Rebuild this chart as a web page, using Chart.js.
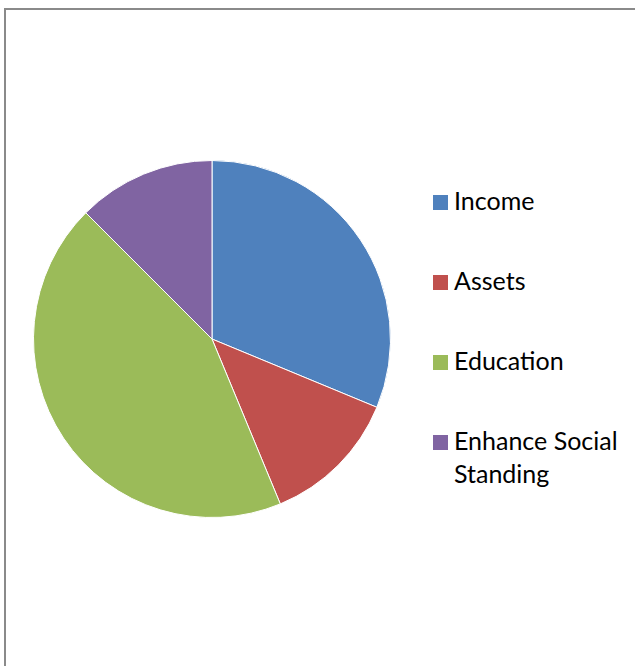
<!DOCTYPE html>
<html>
<head>
<meta charset="utf-8">
<script src="https://cdn.jsdelivr.net/npm/chart.js@4/dist/chart.umd.min.js"></script>
<style>
    html, body {
        margin: 0;
        padding: 0;
        width: 635px;
        height: 666px;
        overflow: hidden;
        background: #ffffff;
    }
    .frame {
        position: absolute;
        left: 4px;
        top: 8px;
        width: 700px;
        height: 700px;
        border: 2px solid #8a8a8a;
        box-sizing: border-box;
    }
    .pie-box {
        position: absolute;
        left: 33px;
        top: 160px;
        width: 358px;
        height: 358px;
    }
    #legend {
        position: absolute;
        left: 433px;
        top: 184px;
        width: 200px;
        margin: 0;
        padding: 0;
        list-style: none;
        font-family: Lato, "Open Sans", sans-serif;
        font-size: 25px;
        line-height: 33px;
        color: #000000;
    }
    #legend li {
        display: flex;
        align-items: baseline;
        margin-bottom: 47px;
    }
    #legend .swatch {
        display: inline-block;
        width: 15px;
        height: 15px;
        margin-right: 6px;
        flex: none;
    }
    #legend .text {
        flex: none;
        width: 172px;
    }
</style>
</head>
<body>
<div class="frame"></div>
<div class="pie-box"><canvas id="pieChart" width="358" height="358"></canvas></div>
<ul id="legend"></ul>

<script>
const labels = ['Income', 'Assets', 'Education', 'Enhance Social Standing'];
const values = [5, 2, 7, 2];
const sliceColors = ['#4F81BD', '#C0504D', '#9BBB59', '#8064A2'];

document.addEventListener('DOMContentLoaded', function() {
    renderPie();
    buildLegend();
});

function renderPie() {
    const ctx = document.getElementById('pieChart').getContext('2d');
    new Chart(ctx, {
        type: 'pie',
        data: {
            labels,
            datasets: [{
                data: values,
                backgroundColor: sliceColors,
                borderColor: '#ffffff',
                borderWidth: 1
            }]
        },
        options: {
            responsive: false,
            animation: false,
            layout: { padding: 0 },
            plugins: {
                legend: { display: false },
                tooltip: { enabled: false }
            }
        }
    });
}

function buildLegend() {
    const list = document.getElementById('legend');
    labels.forEach((name, i) => {
        const li = document.createElement('li');
        li.innerHTML = `<span class="swatch" style="background:${sliceColors[i]}"></span><span class="text">${name}</span>`;
        list.appendChild(li);
    });
}
</script>
</body>
</html>
